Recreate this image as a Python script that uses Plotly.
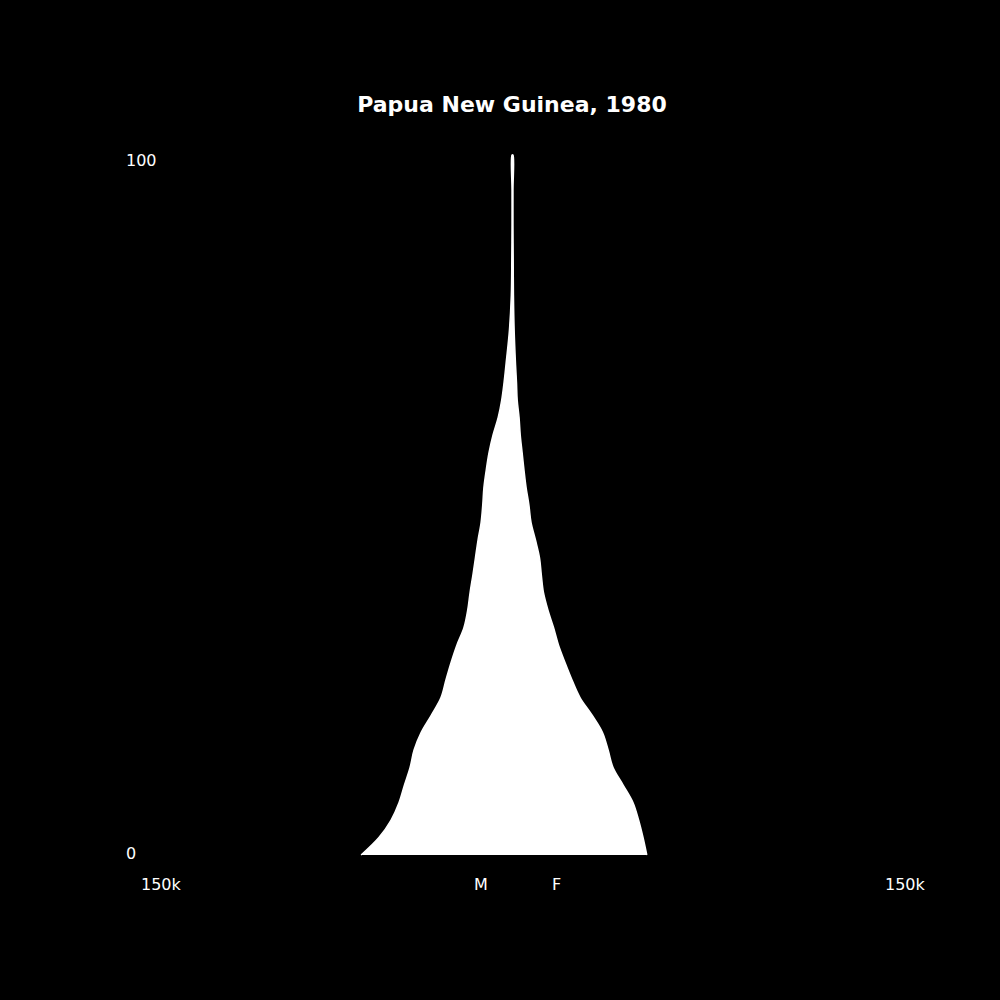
import plotly.graph_objects as go

# age points (years) and population in thousands
ages = [0, 2.5, 5, 7.5, 10, 12.5, 15, 17.5, 20, 22.5, 25, 27.5, 30, 32.5, 35,
        37.5, 40, 42.5, 45, 47.5, 50, 52.5, 55, 57.5, 60, 62.5, 65, 67.5, 70,
        75, 80, 85, 90, 95, 100]
male_k = [64.6, 57.0, 51.8, 48.4, 46.1, 43.7, 42.0, 39.0, 34.6, 30.5, 28.4,
          26.2, 23.7, 20.7, 19.1, 18.1, 16.9, 15.8, 14.7, 13.4, 12.7, 12.2,
          11.2, 10.0, 8.3, 6.1, 4.6, 3.6, 2.8, 1.3, 0.5, 0.3, 0.2, 0.2, 0.2]
female_k = [57.3, 55.7, 53.8, 51.4, 47.2, 42.9, 40.8, 38.4, 33.9, 28.8, 25.4,
            22.4, 19.6, 17.5, 15.1, 13.2, 12.3, 11.5, 9.8, 7.9, 7.0, 5.8, 4.9,
            4.1, 3.3, 2.8, 2.0, 1.7, 1.3, 0.7, 0.4, 0.3, 0.2, 0.2, 0.2]

x_labels = ["150k", "M", "F", "150k"]
y_labels = ["100", "0"]
title = "Papua New Guinea, 1980"

FONT = "DejaVu Sans"

# one closed outline: males up the left side, females back down the right
xs = [-v * 1000 for v in male_k] + [v * 1000 for v in female_k[::-1]]
ys = ages + ages[::-1]

fig = go.Figure(go.Scatter(
    x=xs, y=ys, mode="lines",
    line=dict(color="white", width=1.5, shape="spline", smoothing=1),
    fill="toself", fillcolor="white",
    hoverinfo="skip", showlegend=False,
))

# pixel layout: centre at 512.5px, 150k ~ 351.5px, 7px per year, age 0 at 855px
per_px = 150000 / 351.5
fig.update_xaxes(range=[-512.5 * per_px, 487.5 * per_px], visible=False)
fig.update_yaxes(range=[-145 / 7, 855 / 7], visible=False)

annotations = []
for txt, px in zip(x_labels, [161, 481, 556.5, 905]):
    annotations.append(dict(text=txt, x=px / 1000, y=1 - 884.5 / 1000,
                            xref="paper", yref="paper", showarrow=False,
                            xanchor="center", yanchor="middle",
                            font=dict(color="white", size=16, family=FONT)))
for txt, py_ in zip(y_labels, [160.5, 853.5]):
    annotations.append(dict(text=txt, x=124 / 1000, y=1 - py_ / 1000,
                            xref="paper", yref="paper", showarrow=False,
                            xanchor="left", yanchor="middle",
                            font=dict(color="white", size=16, family=FONT)))

fig.update_layout(
    width=1000, height=1000,
    margin=dict(l=0, r=0, t=0, b=0),
    paper_bgcolor="black", plot_bgcolor="black",
    title=dict(text="<b>" + title + "</b>", x=0.512, xanchor="center",
               y=1 - 104 / 1000, yanchor="middle",
               font=dict(color="white", size=22, family=FONT)),
    annotations=annotations,
)

fig.write_html("out.html", config={"displayModeBar": False},
               post_script="document.body.style.margin='0';"
                           "document.body.style.background='black';")
